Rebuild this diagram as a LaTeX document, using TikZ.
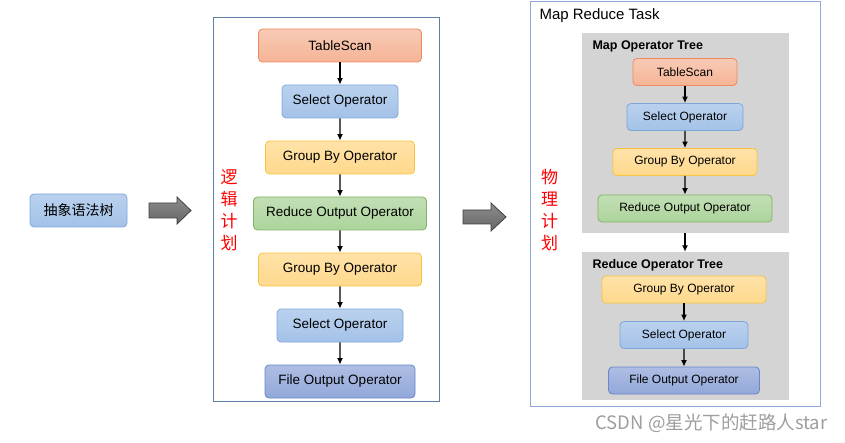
\documentclass[tikz,border=0pt]{standalone}
\usepackage{fontspec}
\setmainfont{Liberation Sans}
\newfontfamily\cjk{Noto Sans CJK SC}
\usepackage{tikz}
\usetikzlibrary{calc,arrows.meta}

\definecolor{orangefill}{HTML}{F5B496}
\definecolor{orangeline}{HTML}{EE8A5C}
\definecolor{bluefill}{HTML}{A3C2E8}
\definecolor{blueline}{HTML}{7EA6DA}
\definecolor{yellowfill}{HTML}{FFD98C}
\definecolor{yellowline}{HTML}{F8C440}
\definecolor{greenfill}{HTML}{ADD49C}
\definecolor{greenline}{HTML}{82B366}
\definecolor{purplefill}{HTML}{93A8DA}
\definecolor{purpleline}{HTML}{6886C8}
\definecolor{frameline}{HTML}{5F7FA6}
\definecolor{taskline}{HTML}{8EAADB}
\definecolor{treegray}{HTML}{D4D4D4}

\begin{document}
\begin{tikzpicture}[x=1pt,y=-1pt,
  box/.style = {shape=rectangle, rounded corners=4pt, draw, line width=0.8pt,
    inner sep=0pt, align=center},
  lbox/.style = {box, minimum height=33pt, font=\fontsize{13.5}{16}\selectfont},
  rbox/.style = {box, minimum height=27pt, font=\fontsize{12}{14}\selectfont},
  orangebox/.style = {draw=orangeline, top color=orangefill!70, bottom color=orangefill},
  bluebox/.style = {draw=blueline, top color=bluefill!75, bottom color=bluefill},
  yellowbox/.style = {draw=yellowline, top color=yellowfill!75, bottom color=yellowfill},
  greenbox/.style = {draw=greenline, top color=greenfill!75, bottom color=greenfill},
  purplebox/.style = {draw=purpleline, top color=purplefill!75, bottom color=purplefill},
  bigarrow/.style = {draw=black!75, line width=0.8pt, top color=black!45, bottom color=black!60},
  plan/.style = {text=red, font=\cjk\fontsize{17}{22}\selectfont, align=center},
  link/.style = {draw, line width=1.4pt, -{Latex[length=6.5pt,width=6pt]}},
  edge from parent/.style = {link}]
  \useasboundingbox (0,0) rectangle (845,443);

  % left: syntax tree and logical plan
  \node[box, bluebox, minimum width=97pt, minimum height=33pt,
    font=\cjk\fontsize{14}{16}\selectfont] (ast) at (78.5,210.5) {抽象语法树};
  \draw[bigarrow] (149,203) -- (177,203) -- (177,197) -- (191,210.5)
    -- (177,224) -- (177,218) -- (149,218) -- cycle;
  \node[draw=frameline, line width=0.8pt, minimum width=226pt, minimum height=384pt,
    inner sep=0pt] (logic) at (326,209) {};
  \node[plan] (logiclabel) at (229,210) {逻\\辑\\计\\划};

  \node[lbox, orangebox, minimum width=163pt] (lscan) at (340,45.5) {TableScan}
    [level distance=56pt]
    child { node[lbox, bluebox, minimum width=116pt] (lsel) {Select Operator}
      child { node[lbox, yellowbox, minimum width=149pt] (lgby) {Group By Operator}
        child { node[lbox, greenbox, minimum width=173pt] (lrs) {Reduce Output Operator}
          child { node[lbox, yellowbox, minimum width=163pt] (lgby2) {Group By Operator}
            child { node[lbox, bluebox, minimum width=126pt] (lsel2) {Select Operator}
              child { node[lbox, purplebox, minimum width=150pt] (lfs) {File Output Operator} } } } } } };

  % right: physical plan
  \draw[bigarrow] (463,210) -- (491,210) -- (491,203) -- (506,217)
    -- (491,231) -- (491,224) -- (463,224) -- cycle;
  \node[draw=taskline, line width=1pt, minimum width=290pt, minimum height=404pt,
    inner sep=0pt] (task) at (675,204) {};
  \node[anchor=west, font=\fontsize{15}{18}\selectfont] (tasklabel) at (536,15.5) {Map Reduce Task};
  \node[plan] (physlabel) at (549.5,210) {物\\理\\计\\划};

  \node[fill=treegray, minimum width=207pt, minimum height=200pt, inner sep=0pt]
    (maptree) at (685.5,133) {};
  \node[anchor=west, font=\bfseries\fontsize{12.5}{15}\selectfont] (maplabel) at (589,46) {Map Operator Tree};
  \node[fill=treegray, minimum width=207pt, minimum height=148pt, inner sep=0pt]
    (redtree) at (685.5,326) {};
  \node[anchor=west, font=\bfseries\fontsize{12.5}{15}\selectfont] (redlabel) at (589,265) {Reduce Operator Tree};
  \draw[link] (maptree.south -| 685,0) -- (redtree.north -| 685,0);

  \node[rbox, orangebox, minimum width=104pt] (mscan) at (685,72) {TableScan}
    [level distance=45pt]
    child { node[rbox, bluebox, minimum width=116pt] (msel) {Select Operator}
      child { node[rbox, yellowbox, minimum width=144pt] (mgby) {Group By Operator}
        child { node[rbox, greenbox, minimum width=174pt, yshift=-1.5pt] (mrs) {Reduce Output Operator} } } };

  \node[rbox, yellowbox, minimum width=164pt] (rgby) at (684,289.5) {Group By Operator}
    [level distance=45.5pt]
    child { node[rbox, bluebox, minimum width=128pt] (rsel) {Select Operator}
      child { node[rbox, purplebox, minimum width=151pt] (rfs) {File Output Operator} } };

  \node[anchor=east, text=black!38, font=\cjk\fontsize{18.5}{21}\selectfont] (mark) at (831,423) {CSDN @星光下的赶路人star};
\end{tikzpicture}
\end{document}
